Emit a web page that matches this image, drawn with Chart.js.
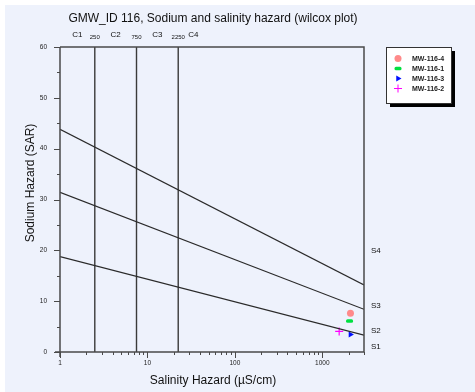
<!DOCTYPE html>
<html>
<head>
<meta charset="utf-8">
<script src="https://cdn.jsdelivr.net/npm/chart.js@4"></script>
<style>
html, body { margin: 0; padding: 0; background: #fff; }
</style>
</head>
<body>
<canvas id="wilcox" width="475" height="392"></canvas>
<script>
// valeurs
const xTicks = [1, 10, 100, 1000];
const yTicks = [0, 10, 20, 30, 40, 50, 60];
const classBounds = [2.5, 7.5, 22.5];
const classBoundLabels = ['250', '750', '2250'];
const classNames = ['C1', 'C2', 'C3', 'C4'];
const hazardAt1 = [18.75, 31.4, 43.8];
const hazardAt3000 = [3.3, 8.4, 13.2];
const sNames = ['S1', 'S2', 'S3', 'S4'];
const sNameY = [1.0, 4.1, 9.0, 19.9];

const wells = ['MW-116-4', 'MW-116-1', 'MW-116-3', 'MW-116-2'];
const ec = [2100, 2050, 2100, 1560];
const sar = [7.6, 6.1, 3.45, 4.05];

const bg = '#eef2fc';
const axisCol = '#4a4a4a';
const font = 'Arial, "Liberation Sans", sans-serif';

const wellStyles = [
    { pointStyle: 'circle', radius: 3.5, rotation: 0, borderWidth: 0, fill: '#ff8a8a', stroke: '#ff8a8a' },
    { pointStyle: 'rectRounded', radius: 3.2, rotation: 0, borderWidth: 0, fill: '#00e040', stroke: '#00e040', flat: true },
    { pointStyle: 'triangle', radius: 3.5, rotation: 90, borderWidth: 0, fill: '#0010ff', stroke: '#0010ff' },
    { pointStyle: 'cross', radius: 4, rotation: 0, borderWidth: 1.2, fill: '#ff00ff', stroke: '#ff00ff' }
];

let datasets = [];
// lignes S
for (let i = 0; i < hazardAt1.length; i++) {
    datasets.push({
        type: 'line',
        data: [{ x: 1, y: hazardAt1[i] }, { x: 3000, y: hazardAt3000[i] }],
        borderColor: '#2a2a2a',
        borderWidth: 1.2,
        pointRadius: 0,
        fill: false
    });
}
// lignes C
for (let i = 0; i < classBounds.length; i++) {
    datasets.push({
        type: 'line',
        data: [{ x: classBounds[i], y: 0 }, { x: classBounds[i], y: 60 }],
        borderColor: '#3a3a3a',
        borderWidth: 1.4,
        pointRadius: 0,
        fill: false
    });
}
// puits
for (let i = 0; i < wells.length; i++) {
    const s = wellStyles[i];
    datasets.push({
        type: 'scatter',
        label: wells[i],
        data: [{ x: ec[i], y: sar[i] }],
        pointStyle: s.pointStyle,
        pointRadius: s.radius,
        pointRotation: s.rotation,
        pointBorderWidth: s.borderWidth,
        backgroundColor: s.fill,
        borderColor: s.stroke,
        clip: false
    });
}

function drawMark(ctx, s, x, y) {
    ctx.fillStyle = s.fill;
    ctx.strokeStyle = s.stroke;
    if (s.flat) {
        // petit tiret vert arrondi
        ctx.beginPath();
        ctx.roundRect(x - 3.5, y - 1.7, 7, 3.4, 1.5);
        ctx.fill();
        return;
    }
    Chart.helpers.drawPoint(ctx, {
        pointStyle: s.pointStyle, radius: s.radius, rotation: s.rotation, borderWidth: s.borderWidth
    }, x, y);
}

const decor = {
    id: 'decor',
    beforeDraw(chart) {
        const ctx = chart.ctx;
        ctx.save();
        ctx.fillStyle = '#fff';
        ctx.fillRect(0, 0, chart.width, chart.height);
        ctx.fillStyle = bg;
        ctx.fillRect(5, 5, chart.width - 5, chart.height - 5);
        ctx.restore();
    },
    afterDatasetsDraw(chart) {
        // remplace le tiret vert par un rectangle aplati
        const ctx = chart.ctx;
        const xs = chart.scales.x, ys = chart.scales.y;
        ctx.save();
        wells.forEach((w, i) => {
            if (wellStyles[i].flat) {
                ctx.fillStyle = bg;
                const px = xs.getPixelForValue(ec[i]), py = ys.getPixelForValue(sar[i]);
                ctx.fillRect(px - 4, py - 4, 8, 8);
                drawMark(ctx, wellStyles[i], px, py);
            }
        });
        ctx.restore();
    },
    afterDraw(chart) {
        const ctx = chart.ctx;
        const xs = chart.scales.x, ys = chart.scales.y;
        const a = chart.chartArea;
        ctx.save();
        ctx.strokeStyle = axisCol;
        ctx.lineWidth = 1.5;
        // cadre
        ctx.beginPath();
        ctx.moveTo(a.left, a.top); ctx.lineTo(a.right, a.top);
        ctx.lineTo(a.right, a.bottom);
        ctx.moveTo(a.left, a.top); ctx.lineTo(a.left, a.bottom + 5);
        ctx.moveTo(a.left - 5, a.bottom); ctx.lineTo(a.right, a.bottom);
        ctx.stroke();

        ctx.lineWidth = 1;
        ctx.fillStyle = '#222';
        // ticks y
        ctx.font = '6.5px ' + font;
        ctx.textAlign = 'right';
        ctx.textBaseline = 'middle';
        for (let v = 0; v <= 60; v += 5) {
            const py = Math.round(ys.getPixelForValue(v)) + 0.5;
            ctx.beginPath();
            ctx.moveTo(a.left - (v % 10 === 0 ? 6 : 3), py);
            ctx.lineTo(a.left, py);
            ctx.stroke();
        }
        yTicks.forEach(v => ctx.fillText(String(v), a.left - 13, ys.getPixelForValue(v)));
        // ticks x
        ctx.textAlign = 'center';
        ctx.textBaseline = 'top';
        for (let d = 1; d <= 1000; d *= 10) {
            for (let m = 1; m <= 9; m++) {
                const v = d * m;
                if (v > 3000) break;
                const px = Math.round(xs.getPixelForValue(v)) + 0.5;
                ctx.beginPath();
                ctx.moveTo(px, a.bottom);
                ctx.lineTo(px, a.bottom + (m === 1 ? 6 : 3));
                ctx.stroke();
            }
        }
        xTicks.forEach(v => ctx.fillText(String(v), xs.getPixelForValue(v), a.bottom + 8));

        // titres
        ctx.fillStyle = '#111';
        ctx.font = '12px ' + font;
        ctx.textAlign = 'center';
        ctx.textBaseline = 'middle';
        ctx.fillText('GMW_ID 116, Sodium and salinity hazard (wilcox plot)', 213, 19);
        ctx.fillText('Salinity Hazard (\u00b5S/cm)', 213, 381);
        ctx.save();
        ctx.translate(31, 183);
        ctx.rotate(-Math.PI / 2);
        ctx.fillText('Sodium Hazard (SAR)', 0, 0);
        ctx.restore();

        // classes C
        const bounds = [1].concat(classBounds);
        ctx.font = '8px ' + font;
        for (let i = 0; i < 3; i++) {
            const mid = Math.sqrt(bounds[i] * bounds[i + 1]);
            ctx.fillText(classNames[i], xs.getPixelForValue(mid), 35);
        }
        const last = xs.getPixelForValue(classBounds[2]);
        ctx.textAlign = 'left';
        ctx.fillText(classNames[3], last + 10, 35);
        ctx.textAlign = 'center';
        ctx.font = '6px ' + font;
        classBounds.forEach((v, i) => ctx.fillText(classBoundLabels[i], xs.getPixelForValue(v), 37));

        // classes S
        ctx.font = '8px ' + font;
        ctx.textAlign = 'left';
        sNames.forEach((n, i) => ctx.fillText(n, a.right + 7, ys.getPixelForValue(sNameY[i])));

        // légende
        const lx = 386, ly = 47, lw = 65, lh = 56;
        ctx.fillStyle = '#000';
        ctx.fillRect(lx + 4, ly + 4, lw, lh);
        ctx.fillStyle = '#fff';
        ctx.fillRect(lx, ly, lw, lh);
        ctx.strokeStyle = '#333';
        ctx.strokeRect(lx + 0.5, ly + 0.5, lw, lh);
        ctx.font = 'bold 7px ' + font;
        ctx.textBaseline = 'middle';
        wells.forEach((w, i) => {
            const cy = ly + 11.5 + i * 10;
            drawMark(ctx, wellStyles[i], lx + 12, cy);
            ctx.fillStyle = '#222';
            ctx.fillText(w, lx + 26, cy + 0.5);
        });
        ctx.restore();
    }
};

new Chart(document.getElementById('wilcox'), {
    type: 'scatter',
    data: { datasets: datasets },
    options: {
        responsive: false,
        devicePixelRatio: 1,
        animation: false,
        layout: { padding: { left: 60, right: 111, top: 47, bottom: 40 } },
        plugins: { legend: { display: false }, tooltip: { enabled: false }, title: { display: false } },
        scales: {
            x: { type: 'logarithmic', min: 1, max: 3000, display: false },
            y: { type: 'linear', min: 0, max: 60, display: false }
        }
    },
    plugins: [decor]
});
</script>
</body>
</html>
